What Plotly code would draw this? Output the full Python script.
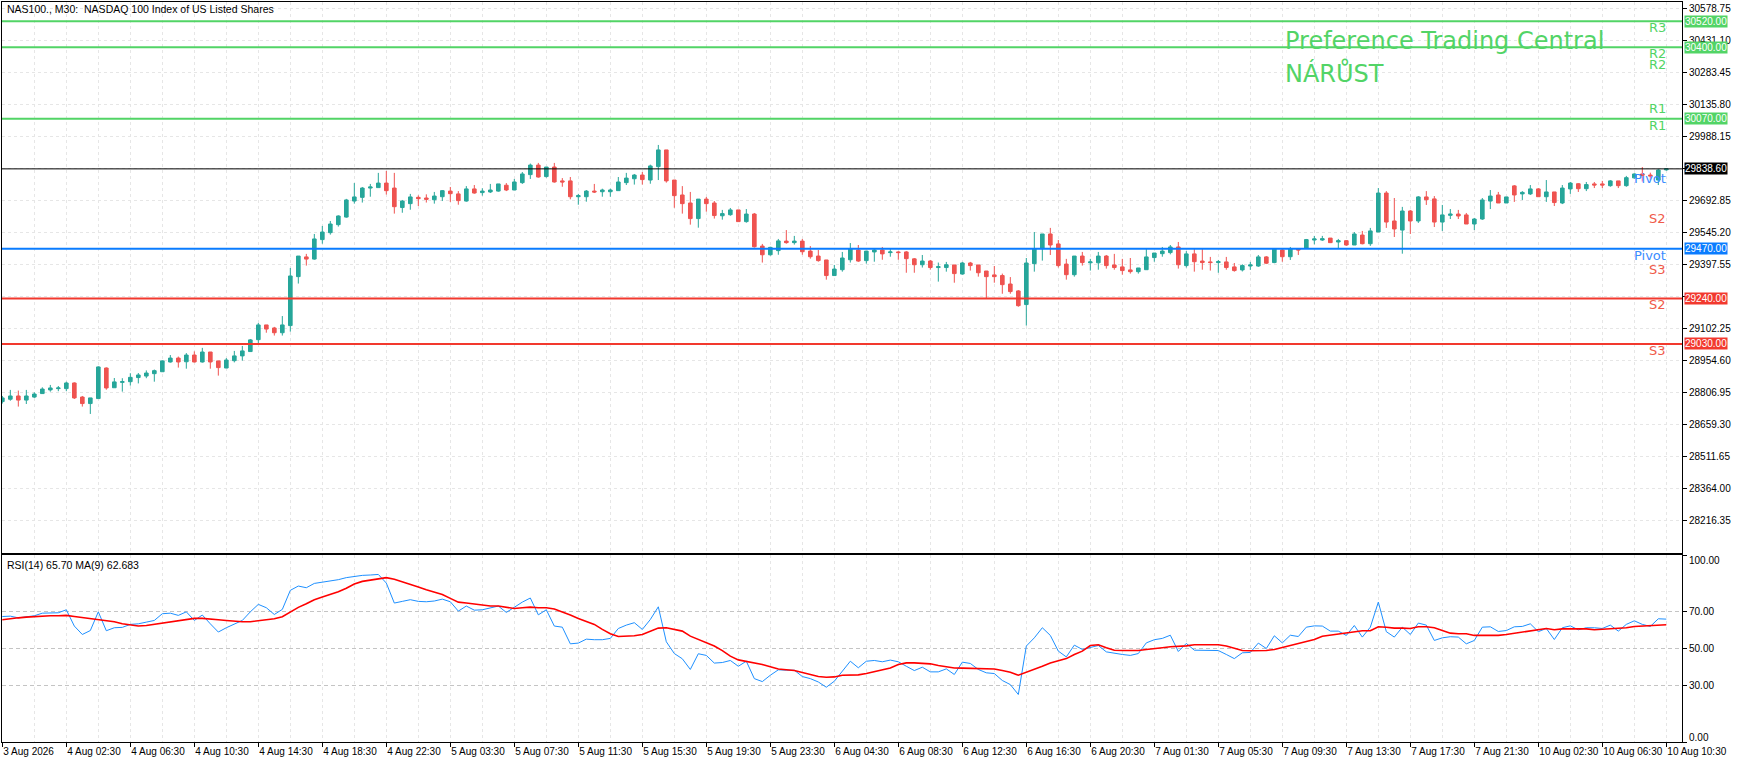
import plotly.graph_objects as go

# ---------------- data ----------------
opens = [28764,28775,28790,28771,28785,28801,28818,28824,28824,28850,
         28785,28755,28778,28919,28828,28853,28856,28875,28882,28893,
         28902,28947,28965,28948,28979,28947,28993,28952,28919,28953,
         28975,28995,29050,29118,29104,29082,29115,29341,29432,29422,
         29512,29544,29581,29616,29690,29707,29750,29752,29773,29750,
         29660,29678,29707,29704,29696,29710,29736,29723,29690,29746,
         29729,29732,29736,29763,29741,29775,29812,29856,29803,29847,
         29783,29783,29710,29710,29736,29733,29733,29738,29775,29793,
         29810,29787,29849,29926,29787,29718,29681,29609,29699,29681,
         29622,29627,29649,29595,29630,29482,29442,29461,29505,29498,
         29505,29459,29436,29418,29346,29373,29419,29464,29415,29455,
         29464,29452,29455,29455,29423,29396,29413,29383,29383,29395,
         29353,29404,29395,29367,29349,29346,29307,29275,29212,29401,
         29470,29538,29492,29399,29350,29436,29405,29405,29436,29395,
         29386,29372,29364,29373,29429,29447,29452,29478,29392,29446,
         29413,29409,29406,29409,29386,29372,29390,29390,29432,29406,
         29464,29433,29469,29473,29510,29510,29519,29501,29507,29487,
         29533,29493,29547,29727,29598,29556,29644,29598,29709,29700,
         29593,29624,29630,29626,29584,29607,29690,29718,29681,29760,
         29723,29723,29746,29710,29732,29681,29746,29770,29747,29769,
         29769,29761,29783,29761,29797,29815,29810,29787,29834]
highs = [28790,28818,28815,28818,28807,28830,28841,28836,28856,28853,
         28790,28781,28927,28922,28873,28872,28895,28896,28908,28912,
         28955,28979,28972,28988,28996,29012,28993,28952,28965,28998,
         29021,29053,29127,29118,29109,29159,29381,29436,29446,29538,
         29575,29598,29624,29700,29773,29755,29769,29820,29829,29820,
         29695,29723,29716,29721,29732,29741,29755,29736,29759,29764,
         29749,29769,29769,29773,29792,29824,29863,29866,29847,29866,
         29796,29801,29723,29741,29769,29747,29747,29801,29820,29815,
         29824,29858,29949,29926,29787,29759,29732,29699,29709,29690,
         29649,29658,29649,29653,29635,29492,29479,29515,29556,29529,
         29515,29482,29464,29418,29395,29455,29496,29487,29459,29473,
         29478,29469,29459,29459,29427,29441,29418,29406,29409,29395,
         29409,29409,29395,29367,29390,29355,29339,29279,29427,29547,
         29538,29566,29510,29423,29436,29455,29423,29455,29441,29446,
         29423,29427,29381,29469,29450,29478,29487,29501,29459,29469,
         29469,29432,29418,29432,29404,29398,29409,29441,29436,29473,
         29469,29478,29469,29515,29529,29529,29519,29515,29510,29547,
         29552,29566,29750,29736,29704,29663,29649,29713,29736,29713,
         29672,29653,29649,29635,29612,29704,29741,29732,29709,29764,
         29736,29764,29750,29787,29732,29764,29778,29773,29778,29778,
         29783,29787,29783,29806,29818,29847,29821,29837,29840]
lows = [28755,28768,28741,28753,28781,28800,28810,28812,28812,28776,
        28741,28707,28778,28819,28828,28810,28838,28848,28872,28856,
        28902,28944,28921,28916,28945,28944,28916,28884,28919,28945,
        28953,28995,29030,29082,29069,29069,29087,29309,29392,29419,
        29493,29535,29572,29613,29678,29683,29710,29752,29720,29632,
        29636,29650,29667,29683,29678,29690,29686,29673,29687,29724,
        29715,29727,29733,29736,29741,29769,29792,29798,29798,29775,
        29756,29698,29673,29687,29727,29710,29710,29738,29764,29766,
        29766,29770,29787,29775,29659,29632,29581,29567,29641,29609,
        29604,29622,29595,29590,29475,29406,29438,29442,29493,29489,
        29442,29424,29410,29327,29346,29364,29406,29409,29401,29410,
        29419,29433,29419,29359,29359,29383,29373,29318,29364,29313,
        29350,29369,29341,29242,29313,29262,29262,29202,29115,29364,
        29415,29441,29383,29327,29341,29392,29369,29373,29378,29373,
        29350,29355,29355,29373,29410,29433,29444,29378,29383,29364,
        29373,29369,29359,29373,29364,29365,29372,29386,29399,29403,
        29410,29418,29441,29469,29490,29506,29496,29473,29483,29487,
        29490,29483,29547,29566,29524,29447,29538,29589,29672,29570,
        29552,29607,29607,29584,29556,29603,29653,29681,29681,29686,
        29695,29718,29710,29686,29667,29676,29723,29732,29736,29750,
        29750,29756,29750,29756,29793,29780,29787,29764,29830]
closes = [28781,28790,28771,28790,28799,28822,28827,28827,28850,28781,
          28755,28781,28924,28827,28855,28856,28876,28887,28896,28907,
          28952,28965,28947,28979,28947,28993,28947,28921,28956,28975,
          28998,29049,29118,29099,29082,29118,29344,29436,29422,29515,
          29547,29584,29621,29695,29709,29750,29755,29773,29738,29664,
          29690,29709,29701,29698,29713,29738,29724,29692,29746,29727,
          29736,29741,29769,29741,29778,29815,29856,29801,29847,29778,
          29778,29710,29715,29736,29732,29741,29741,29778,29796,29810,
          29789,29852,29926,29783,29715,29678,29609,29699,29678,29623,
          29632,29649,29595,29630,29479,29442,29476,29506,29498,29505,
          29456,29433,29415,29346,29376,29427,29469,29413,29459,29464,
          29446,29455,29452,29424,29396,29413,29383,29387,29396,29355,
          29404,29392,29359,29341,29341,29304,29272,29207,29404,29469,
          29538,29487,29392,29350,29436,29406,29409,29436,29392,29383,
          29369,29364,29381,29432,29450,29459,29478,29396,29446,29410,
          29406,29406,29410,29383,29369,29392,29395,29432,29403,29469,
          29433,29469,29464,29512,29515,29516,29498,29507,29487,29538,
          29493,29552,29727,29593,29561,29644,29598,29709,29696,29593,
          29626,29630,29621,29584,29607,29695,29713,29681,29709,29718,
          29730,29746,29710,29732,29683,29750,29773,29747,29766,29764,
          29764,29783,29761,29798,29815,29809,29806,29833,29838.6]

rsi = [67.1,67.3,66.4,67.1,67.5,68.9,69.1,69.1,70.7,62.0,
       57.5,59.6,69.6,59.5,61.1,61.3,62.9,63.2,64.1,65.0,
       68.6,68.9,67.7,69.6,65.0,67.9,63.2,58.8,61.1,63.2,
       65.0,69.6,73.6,71.8,68.2,70.9,81.1,83.4,82.5,84.8,
       85.4,86.4,86.8,87.9,88.6,89.1,89.3,89.6,85.0,74.3,
       75.2,76.1,75.2,75.0,75.4,76.4,75.0,70.0,72.7,70.5,
       70.7,71.8,72.7,69.3,72.0,74.8,77.0,68.0,70.7,62.0,
       61.4,52.5,52.9,55.0,54.7,54.7,55.4,60.7,62.5,63.8,
       60.2,65.5,72.3,53.6,47.3,44.5,38.8,47.2,46.3,42.2,
       42.5,43.6,40.5,43.2,33.9,32.3,35.7,38.6,38.4,38.4,
       35.0,33.9,32.1,29.3,32.5,37.9,43.2,39.7,43.2,43.6,
       42.9,43.8,42.9,40.5,38.2,40.0,37.5,37.5,39.1,36.1,
       42.7,42.0,38.8,37.0,36.6,32.9,30.7,25.4,51.3,55.7,
       61.1,57.0,48.6,45.5,51.8,49.5,50.4,51.6,48.2,47.7,
       46.8,46.3,47.3,53.0,54.7,55.4,57.1,48.4,52.7,49.1,
       49.1,49.1,48.9,46.8,44.6,47.7,47.9,52.9,50.0,56.8,
       53.0,57.1,56.4,61.4,62.1,62.0,59.3,59.3,57.0,62.3,
       56.1,61.4,74.8,59.0,56.1,61.4,57.5,63.6,62.5,54.3,
       55.7,56.3,56.1,52.5,54.3,61.4,61.6,59.1,59.6,61.6,
       61.8,63.2,59.0,60.7,54.8,61.1,62.1,60.0,61.1,61.1,
       60.7,62.5,59.3,62.9,64.8,62.9,61.8,65.9,65.7]
rsi_ma = [65.4,66.1,66.4,66.8,67.1,67.3,67.5,67.5,67.7,67.1,
          66.6,65.9,65.7,65.2,64.3,63.2,62.5,62.0,62.3,62.9,
          63.8,64.0,64.7,65.4,66.1,66.1,65.9,65.4,65.0,64.5,
          64.3,64.3,64.8,65.7,65.9,67.0,69.6,72.0,73.9,76.1,
          77.5,78.8,80.4,82.2,84.5,85.9,86.6,87.5,87.9,87.0,
          85.7,84.6,82.9,81.4,80.0,78.9,76.8,74.8,74.3,73.8,
          73.2,72.7,72.7,72.0,71.4,71.8,72.1,71.8,71.8,71.1,
          69.6,67.9,66.1,64.7,62.9,60.2,57.9,56.4,56.4,56.8,
          57.5,59.3,60.9,61.1,60.2,59.3,56.6,54.8,53.2,51.3,
          48.9,45.9,43.9,43.2,42.3,41.4,40.2,39.0,38.6,38.2,
          37.2,36.1,35.0,34.6,34.8,35.7,35.9,35.9,36.6,37.5,
          38.6,39.6,41.4,42.3,42.3,42.0,41.8,40.9,40.2,39.6,
          39.5,39.3,39.1,39.0,39.0,38.2,37.3,35.7,37.2,38.8,
          40.5,42.3,43.6,44.6,46.8,48.6,51.6,52.0,50.4,49.1,
          48.9,48.9,48.9,49.5,49.8,50.4,50.9,51.1,51.4,52.0,
          52.0,52.0,52.0,51.3,50.0,48.9,48.8,48.8,48.9,49.5,
          50.5,51.6,52.5,53.6,54.8,56.6,57.1,57.9,58.2,59.0,
          59.5,59.5,61.6,61.4,60.9,60.9,60.7,61.6,61.6,61.1,
          59.8,58.2,57.9,57.9,57.0,57.0,57.0,57.0,57.5,58.2,
          58.8,59.5,60.2,60.7,60.0,60.5,60.5,60.5,60.5,60.0,
          60.2,60.7,60.5,61.1,61.8,62.0,62.0,62.3,62.7]

time_labels = ["3 Aug 2026", "4 Aug 02:30", "4 Aug 06:30", "4 Aug 10:30", "4 Aug 14:30",
               "4 Aug 18:30", "4 Aug 22:30", "5 Aug 03:30", "5 Aug 07:30", "5 Aug 11:30",
               "5 Aug 15:30", "5 Aug 19:30", "5 Aug 23:30", "6 Aug 04:30", "6 Aug 08:30",
               "6 Aug 12:30", "6 Aug 16:30", "6 Aug 20:30", "7 Aug 01:30", "7 Aug 05:30",
               "7 Aug 09:30", "7 Aug 13:30", "7 Aug 17:30", "7 Aug 21:30", "10 Aug 02:30",
               "10 Aug 06:30", "10 Aug 10:30"]
label_step = 8

price_ticks = [30578.75, 30431.10, 30283.45, 30135.80, 29988.15, 29840.50, 29692.85,
               29545.20, 29397.55, 29249.90, 29102.25, 28954.60, 28806.95, 28659.30,
               28511.65, 28364.00, 28216.35]
# tick labels that the terminal hides behind the coloured price boxes
hidden_ticks = [29840.50, 29249.90]
rsi_ticks = [0, 30, 50, 70, 100]

level_names = ["R3", "R2", "R1", "Pivot", "S2", "S3"]
level_values = [30520.00, 30400.00, 30070.00, 29470.00, 29240.00, 29030.00]
current_price = 29838.60

symbol_title = "NAS100., M30:\u00a0 NASDAQ 100 Index of US Listed Shares"
rsi_title = "RSI(14) 65.70 MA(9) 62.683"
brand_text = ["Preference Trading Central", "NÁRŮST"]

# ---------------- styling ----------------
W, H = 1740, 763
ML, MR, MT, MB = 2, 58, 2, 21
PW, PH = W - ML - MR, H - MT - MB
TEAL = "#26a69a"
RED = "#ef5350"
GREEN = "#52d466"
BLUE = "#0a7cff"
LRED = "#f2392e"
GRID = "#e6e6e6"
FAM = "Liberation Sans, Arial, sans-serif"
SMALL = dict(family=FAM, size=10.5, color="#000000")
AXF = dict(family=FAM, size=10, color="#000000")

def py(px):  # pixel row -> paper y
    return (H - MB - px) / PH

def pxx(px):  # pixel col -> paper x
    return (px - ML) / PW

main_dom = [py(553), 1.0]
rsi_dom = [0.0, py(555)]

n = len(closes)
idx = list(range(n))

fig = go.Figure()
fig.add_trace(go.Candlestick(
    x=idx, open=opens, high=highs, low=lows, close=closes,
    increasing=dict(line=dict(color=TEAL, width=1), fillcolor=TEAL),
    decreasing=dict(line=dict(color=RED, width=1), fillcolor=RED),
    whiskerwidth=0, xaxis="x", yaxis="y", showlegend=False, hoverinfo="skip"))
fig.add_trace(go.Scatter(x=idx, y=rsi, mode="lines", line=dict(color="#1e90ff", width=1),
                         xaxis="x2", yaxis="y2", showlegend=False, hoverinfo="skip"))
fig.add_trace(go.Scatter(x=idx, y=rsi_ma, mode="lines", line=dict(color="#ff0000", width=1.6),
                         xaxis="x2", yaxis="y2", showlegend=False, hoverinfo="skip"))

tick_pos = [i * label_step for i in range(len(time_labels))]
xrange_ = [-0.04, n + 0.96]

common_x = dict(range=xrange_, tickmode="array", tickvals=tick_pos,
                showgrid=True, gridcolor=GRID, griddash="3px,3px", gridwidth=1,
                minor=dict(tick0=0, dtick=4, showgrid=True, gridcolor=GRID,
                           griddash="3px,3px", gridwidth=1, ticks=""),
                showline=True, linecolor="#000000", linewidth=1, mirror=True,
                zeroline=False, fixedrange=True, automargin=False)

fig.update_layout(
    width=W, height=H, margin=dict(l=ML, r=MR, t=MT, b=MB, pad=0, autoexpand=False),
    paper_bgcolor="white", plot_bgcolor="white", hovermode=False,
    showlegend=False, boxgap=0.35,
    xaxis=dict(domain=[0, 1], anchor="y", showticklabels=False, ticks="",
               rangeslider=dict(visible=False), **common_x),
    xaxis2=dict(domain=[0, 1], anchor="y2", matches="x", ticktext=time_labels,
                showticklabels=True, ticks="outside", ticklen=4, tickcolor="#000000",
                tickangle=0, ticklabelposition="outside right", tickfont=AXF, **common_x),
    yaxis=dict(domain=main_dom, anchor="x", side="right",
               range=[28065, 30609], tickmode="array", tickvals=price_ticks,
               ticktext=["" if v in hidden_ticks else f"{v:.2f}" for v in price_ticks],
               tickfont=AXF, ticks="outside", ticklen=4, tickcolor="#000000",
               showgrid=True, gridcolor=GRID, griddash="3px,3px",
               showline=True, linecolor="#000000", linewidth=1, mirror=True,
               zeroline=False, fixedrange=True, automargin=False),
    yaxis2=dict(domain=rsi_dom, anchor="x2", side="right", range=[0, 100],
                tickmode="array", tickvals=rsi_ticks,
                ticktext=["" if v in (0, 100) else f"{v:.2f}" for v in rsi_ticks],
                tickfont=AXF, ticks="outside", ticklen=4, tickcolor="#000000",
                showgrid=True, gridcolor="#c4c4c4", griddash="4px,3px",
                showline=True, linecolor="#000000", linewidth=1, mirror=True,
                zeroline=False, fixedrange=True, automargin=False),
)

level_colors = [GREEN, GREEN, GREEN, BLUE, LRED, LRED]
shapes = []
for v, c in zip(level_values, level_colors):
    shapes.append(dict(type="line", xref="x domain", yref="y", x0=0, x1=1, y0=v, y1=v,
                       line=dict(color=c, width=2), layer="above"))
shapes.append(dict(type="line", xref="x domain", yref="y", x0=0, x1=1,
                   y0=current_price, y1=current_price,
                   line=dict(color="#000000", width=1), layer="above"))
fig.update_layout(shapes=shapes)

ann = []
# price boxes on the right axis
for v, c in zip(level_values, level_colors):
    ann.append(dict(xref="paper", yref="y", x=1, y=v, xanchor="left", yanchor="middle",
                    xshift=2, text=f"{v:.2f}", showarrow=False, bgcolor=c, borderpad=0,
                    font=dict(family=FAM, size=10, color="white")))
ann.append(dict(xref="paper", yref="y", x=1, y=current_price, xanchor="left", yanchor="middle",
                xshift=2, text=f"{current_price:.2f}", showarrow=False, bgcolor="#000000",
                borderpad=0, font=dict(family=FAM, size=10, color="white")))

# level name labels (label, anchor level, pixel offset, colour)
LBL = dict(family="DejaVu Sans, Verdana, sans-serif", size=13)
lv = dict(zip(level_names, level_values))
name_specs = [("R3", lv["R3"], -6, GREEN), ("R2", lv["R2"], -6, GREEN), ("R2", lv["R2"], -17, GREEN),
              ("R1", lv["R1"], 10, GREEN), ("R1", lv["R1"], -7, GREEN),
              ("Pivot", current_price, -10, "#3b8cff"), ("S2", lv["Pivot"], 30, "#f05a4a"),
              ("Pivot", lv["Pivot"], -7, "#3b8cff"), ("S3", lv["Pivot"], -21, "#f05a4a"),
              ("S2", lv["S2"], -6, "#f05a4a"), ("S3", lv["S3"], -7, "#f05a4a")]
for t, v, dy, c in name_specs:
    ann.append(dict(xref="paper", yref="y", x=pxx(1668), y=v, yshift=dy, xanchor="right",
                    yanchor="middle", text=t, showarrow=False, font=dict(LBL, color=c)))

# brand text
for t, yp in zip(brand_text, [41, 73]):
    ann.append(dict(xref="paper", yref="paper", x=pxx(1283), y=py(yp), xanchor="left",
                    yanchor="middle", text=t, showarrow=False,
                    font=dict(family="DejaVu Sans, Verdana, sans-serif", size=24, color=GREEN)))

# panel titles
ann.append(dict(xref="paper", yref="paper", x=pxx(5), y=py(9.5), xanchor="left", yanchor="middle",
                text=symbol_title, showarrow=False, font=SMALL))
ann.append(dict(xref="paper", yref="paper", x=pxx(5), y=py(565), xanchor="left", yanchor="middle",
                text=rsi_title, showarrow=False, font=SMALL))
# RSI min/max labels (pushed inside the panel like the terminal does)
ann.append(dict(xref="paper", yref="y2", x=1, y=100, xanchor="left", yanchor="middle", xshift=5,
                yshift=-5, text="100.00", showarrow=False, font=AXF))
ann.append(dict(xref="paper", yref="y2", x=1, y=0, xanchor="left", yanchor="middle", xshift=5,
                yshift=5, text="0.00", showarrow=False, font=AXF))
fig.update_layout(annotations=ann)

fig.write_html("out.html", config=dict(displayModeBar=False, staticPlot=True),
               post_script="document.body.style.margin='0';document.body.style.overflow='hidden';")
